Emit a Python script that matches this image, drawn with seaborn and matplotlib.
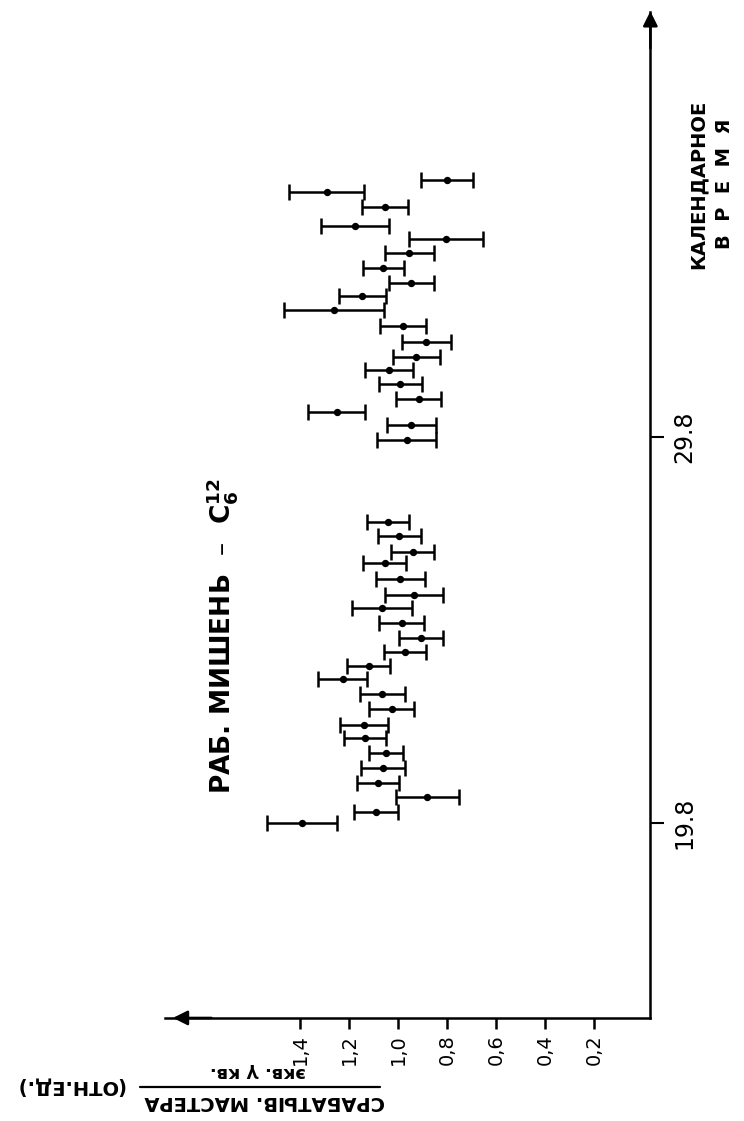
import matplotlib
matplotlib.use("Agg")
import matplotlib.pyplot as plt
import seaborn as sns
import numpy as np
from matplotlib.lines import Line2D

# measurement time (day of August) and relative master trigger rate
days = [19.00, 19.29, 19.67, 20.04, 20.42, 20.81, 21.20, 21.54, 21.95, 22.34,
        22.73, 23.07, 23.43, 23.79, 24.18, 24.57, 24.91, 25.32, 25.74, 26.02,
        26.44, 26.80,
        28.92, 29.31, 29.65, 29.98, 30.37, 30.74, 31.07, 31.46, 31.88, 32.29,
        32.65, 32.99, 33.38, 33.77, 34.13, 34.47, 34.96, 35.35, 35.66]
rate = [1.39, 1.09, 0.88, 1.08, 1.06, 1.05, 1.135, 1.14, 1.025, 1.065,
        1.225, 1.12, 0.97, 0.905, 0.985, 1.065, 0.935, 0.99, 1.055, 0.94,
        0.995, 1.04,
        0.965, 0.945, 1.25, 0.915, 0.99, 1.035, 0.925, 0.885, 0.98, 1.26,
        1.145, 0.945, 1.06, 0.955, 0.805, 1.175, 1.055, 1.29, 0.80]
rate_err = [0.143, 0.088, 0.127, 0.086, 0.090, 0.070, 0.086, 0.098, 0.092, 0.092,
            0.100, 0.088, 0.086, 0.090, 0.092, 0.124, 0.118, 0.100, 0.086, 0.088,
            0.088, 0.086,
            0.120, 0.100, 0.116, 0.092, 0.088, 0.098, 0.096, 0.100, 0.094, 0.204,
            0.096, 0.092, 0.084, 0.100, 0.151, 0.139, 0.094, 0.153, 0.108]

rate_ticks = [1.4, 1.2, 1.0, 0.8, 0.6, 0.4, 0.2]
rate_labels = ["1,4", "1,2", "1,0", "0,8", "0,6", "0,4", "0,2"]
day_ticks = [19, 29]
day_labels = ["19.8", "29.8"]

sns.set_theme(style="white")
plt.rcParams['font.family'] = ['DejaVu Sans']
plt.rcParams['text.color'] = 'black'

W, H = 744, 1121
fig = plt.figure(figsize=(W / 100, H / 100), dpi=100)
ax = fig.add_axes([0, 0, 1, 1])
ax.set_facecolor('white')

# the sheet is turned on its side: rate runs right-to-left, time runs upward
ax.set_xlim(2.6245, -0.4122)
ax.set_ylim(11.28, 40.32)

ax.errorbar(rate, days, xerr=rate_err, fmt='none', ecolor='black',
            elinewidth=1.8, capsize=6, capthick=1.8, zorder=2)
sns.scatterplot(x=rate, y=days, color='black', s=28, edgecolor='black',
                linewidth=0, ax=ax, zorder=3, legend=False)

# axes
y0 = 13.95
x0 = -0.03
for side in ['top', 'left']:
    ax.spines[side].set_visible(False)
ax.spines['bottom'].set_position(('data', y0))
ax.spines['bottom'].set_bounds(x0, 1.95)
ax.spines['right'].set_position(('data', x0))
ax.spines['right'].set_bounds(y0, 40.0)
for side in ['bottom', 'right']:
    ax.spines[side].set_color('black')
    ax.spines[side].set_linewidth(1.8)

ax.annotate('', xy=(1.93, y0), xytext=(1.75, y0),
            arrowprops=dict(arrowstyle='-|>', color='black', lw=1.8,
                            mutation_scale=22))
ax.annotate('', xy=(x0, 40.1), xytext=(x0, 39.0),
            arrowprops=dict(arrowstyle='-|>', color='black', lw=1.8,
                            mutation_scale=22))

ax.set_xticks(rate_ticks)
ax.set_xticklabels(rate_labels, rotation=90, fontsize=14)
ax.yaxis.tick_right()
ax.set_yticks(day_ticks)
ax.set_yticklabels(day_labels, rotation=90, fontsize=17, va='center')
ax.tick_params(axis='x', direction='out', length=8, width=1.8, pad=4,
               colors='black', bottom=True)
ax.tick_params(axis='y', direction='out', length=10, width=1.5, pad=6,
               colors='black', right=True, left=False)
ax.set_xlabel('')
ax.set_ylabel('')
ax.grid(False)

# texts
fig.text(222 / W, 1 - 636 / H, "РАБ. МИШЕНЬ  –  $\\mathregular{C_6^{12}}$",
         rotation=90, ha='center', va='center', fontsize=19, fontweight='heavy',
         color='black')
fig.text(698 / W, 1 - 184 / H, "КАЛЕНДАРНОЕ", rotation=90, ha='center',
         va='center', fontsize=14, fontweight='bold', color='black')
fig.text(724 / W, 1 - 184 / H, "В  Р  Е  М  Я", rotation=90, ha='center',
         va='center', fontsize=14, fontweight='bold', color='black')

fig.text(258 / W, 1 - 1072 / H, "экв. γ кв.", rotation=180, ha='center',
         va='center', fontsize=13, fontweight='bold', color='black')
fig.add_artist(Line2D([140 / W, 380 / W], [1 - 1087 / H, 1 - 1087 / H],
                      color='black', lw=1.6))
fig.text(265 / W, 1 - 1101 / H, "СРАБАТЫВ. МАСТЕРА", rotation=180,
         ha='center', va='center', fontsize=14, fontweight='bold', color='black')
fig.text(70 / W, 1 - 1086 / H, "(ОТН.ЕД.)", rotation=180, ha='center',
         va='center', fontsize=14, fontweight='bold', color='black')

fig.savefig('out.png', dpi=100, facecolor='white')
